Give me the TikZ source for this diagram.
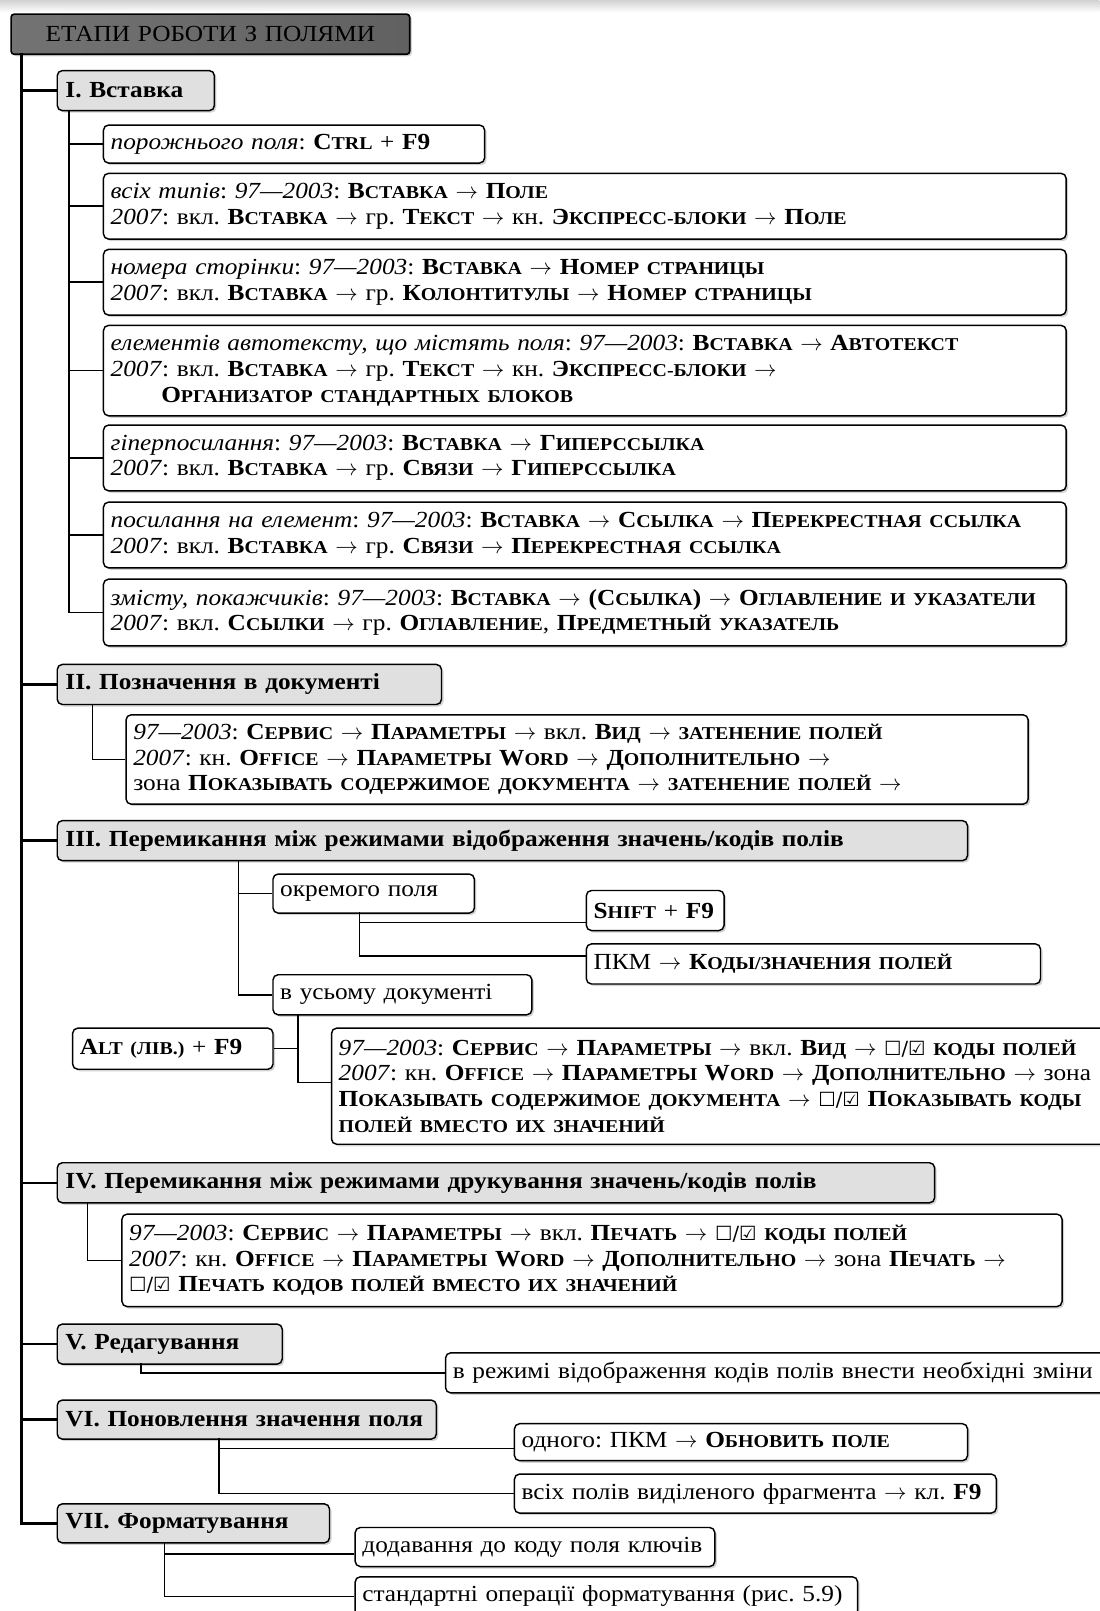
\documentclass[tikz,border=0pt]{standalone}
\usepackage{fontspec}
\setmainfont{Liberation Serif}[FakeStretch=1.1]
\newfontfamily\dejavu{DejaVu Sans}
\usetikzlibrary{shadows}
\frenchspacing

% small caps as in the book: bold initial, smaller capitals
\newcommand\kap[2]{\textbf{#1{\fontsize{8.8}{10}\selectfont #2}}}
\newcommand\chk{{\dejavu\fontsize{9.5}{10}\selectfont ☐/☑}}
\newcommand\ar{$\rightarrow$}

\begin{document}
\begin{tikzpicture}[x=0.5pt,y=-0.5pt,
    head/.style={draw,line width=0.8pt,rounded corners=1.5pt,anchor=north west,inner sep=0pt,
      left color=black!55,middle color=black!3,right color=black!62,align=center,
      font=\fontsize{11.2}{13}\selectfont,drop shadow={shadow xshift=1pt,shadow yshift=-1pt,opacity=0.35}},
    lvl/.style={draw,line width=0.7pt,rounded corners=2.5pt,fill=black!12,anchor=north west,
      inner xsep=4pt,inner ysep=0pt,align=left,font=\bfseries\fontsize{11.2}{13}\selectfont,
      drop shadow={shadow xshift=1pt,shadow yshift=-1pt,opacity=0.35}},
    item/.style={draw,line width=0.7pt,rounded corners=2.5pt,fill=white,anchor=north west,
      inner xsep=3.5pt,inner ysep=0pt,align=left,font=\fontsize{11.2}{12.5}\selectfont,
      drop shadow={shadow xshift=1pt,shadow yshift=-1pt,opacity=0.35}},
    link/.style={line width=0.75pt},
    trunk/.style={line width=1.2pt}]
  \useasboundingbox (0,0) rectangle (1070,1568);
  \shade[top color=black!18,bottom color=white] (0,0) rectangle (1070,12);

  % Coordinates of the branch points
  \coordinate (t0) at (21,52);
  \coordinate (t1) at (67,107);
  \coordinate (t2) at (90,685);
  \coordinate (t3) at (232,837);
  \coordinate (t3a) at (350,888);
  \coordinate (t3b) at (290,987);
  \coordinate (t4) at (85,1170);
  \coordinate (t5) at (137,1327);
  \coordinate (t6) at (213,1400);
  \coordinate (t7) at (160,1501);

  % The title
  \node[head,text width=194pt,minimum height=19.5pt] (head) at (10,13) {ЕТАПИ РОБОТИ З ПОЛЯМИ};

  % The stages
  \node[lvl,text width=68.5pt,minimum height=19.5pt] (l1) at (55,68) {I. Вставка};
  \node[lvl,text width=179pt,minimum height=19.5pt] (l2) at (55,646) {II. Позначення в документі};
  \node[lvl,text width=435pt,minimum height=19.5pt] (l3) at (55,798) {III. Перемикання між режимами відображення значень/кодів полів};
  \node[lvl,text width=419pt,minimum height=19.5pt] (l4) at (55,1131) {IV. Перемикання між режимами друкування значень/кодів полів};
  \node[lvl,text width=101.5pt,minimum height=19.5pt] (l5) at (55,1288) {V. Редагування};
  \node[lvl,text width=176.5pt,minimum height=19pt] (l6) at (55,1362) {VI. Поновлення значення поля};
  \node[lvl,text width=124.5pt,minimum height=19pt] (l7) at (55,1463) {VII. Форматування};

  % I. Вставка
  \node[item,text width=178.5pt,minimum height=18.5pt] (ia) at (100,121)
    {\textit{порожнього поля}: \kap{C}{TRL} + \textbf{F9}};
  \node[item,text width=461.5pt,minimum height=32pt] (ib) at (100,168)
    {\textit{всіх типів}: \textit{97—2003}: \kap{В}{СТАВКА} \ar{} \kap{П}{ОЛЕ}\\
     \textit{2007}: вкл. \kap{В}{СТАВКА} \ar{} гр. \kap{Т}{ЕКСТ} \ar{} кн. \kap{Э}{КСПРЕСС-БЛОКИ} \ar{} \kap{П}{ОЛЕ}};
  \node[item,text width=461.5pt,minimum height=32pt] (ic) at (100,242)
    {\textit{номера сторінки}: \textit{97—2003}: \kap{В}{СТАВКА} \ar{} \kap{Н}{ОМЕР СТРАНИЦЫ}\\
     \textit{2007}: вкл. \kap{В}{СТАВКА} \ar{} гр. \kap{К}{ОЛОНТИТУЛЫ} \ar{} \kap{Н}{ОМЕР СТРАНИЦЫ}};
  \node[item,text width=461.5pt,minimum height=44pt] (id) at (100,316)
    {\textit{елементів автотексту, що містять поля}: \textit{97—2003}: \kap{В}{СТАВКА} \ar{} \kap{А}{ВТОТЕКСТ}\\
     \textit{2007}: вкл. \kap{В}{СТАВКА} \ar{} гр. \kap{Т}{ЕКСТ} \ar{} кн. \kap{Э}{КСПРЕСС-БЛОКИ} \ar\\
     \hspace*{2.2em}\kap{О}{РГАНИЗАТОР СТАНДАРТНЫХ БЛОКОВ}};
  \node[item,text width=461.5pt,minimum height=32pt] (ie) at (100,413)
    {\textit{гіперпосилання}: \textit{97—2003}: \kap{В}{СТАВКА} \ar{} \kap{Г}{ИПЕРССЫЛКА}\\
     \textit{2007}: вкл. \kap{В}{СТАВКА} \ar{} гр. \kap{С}{ВЯЗИ} \ar{} \kap{Г}{ИПЕРССЫЛКА}};
  \node[item,text width=461.5pt,minimum height=32pt] (if) at (100,488)
    {\textit{посилання на елемент}: \textit{97—2003}: \kap{В}{СТАВКА} \ar{} \kap{С}{СЫЛКА} \ar{} \kap{П}{ЕРЕКРЕСТНАЯ ССЫЛКА}\\
     \textit{2007}: вкл. \kap{В}{СТАВКА} \ar{} гр. \kap{С}{ВЯЗИ} \ar{} \kap{П}{ЕРЕКРЕСТНАЯ ССЫЛКА}};
  \node[item,text width=461.5pt,minimum height=32.5pt] (ig) at (100,563)
    {\textit{змісту, покажчиків}: \textit{97—2003}: \kap{В}{СТАВКА} \ar{} \textbf{(}\kap{С}{СЫЛКА}\textbf{)} \ar{} \kap{О}{ГЛАВЛЕНИЕ И УКАЗАТЕЛИ}\\
     \textit{2007}: вкл. \kap{С}{СЫЛКИ} \ar{} гр. \kap{О}{ГЛАВЛЕНИЕ}, \kap{П}{РЕДМЕТНЫЙ УКАЗАТЕЛЬ}};

  % II. Позначення
  \node[item,text width=432pt,minimum height=43.5pt] (p2) at (122,695)
    {\textit{97—2003}: \kap{С}{ЕРВИС} \ar{} \kap{П}{АРАМЕТРЫ} \ar{} вкл. \kap{В}{ИД} \ar{} \kap{}{ЗАТЕНЕНИЕ ПОЛЕЙ}\\
     \textit{2007}: кн. \kap{O}{FFICE} \ar{} \kap{П}{АРАМЕТРЫ }\kap{W}{ORD} \ar{} \kap{Д}{ОПОЛНИТЕЛЬНО} \ar\\
     зона \kap{П}{ОКАЗЫВАТЬ СОДЕРЖИМОЕ ДОКУМЕНТА} \ar{} \kap{}{ЗАТЕНЕНИЕ ПОЛЕЙ} \ar};

  % III. Перемикання відображення
  \node[item,text width=91pt,minimum height=19pt] (okr) at (265,850) {окремого поля};
  \node[item,text width=119pt,minimum height=19.5pt] (usyo) at (265,948) {в усьому документі};
  \node[item,text width=60pt,minimum height=19.5pt] (shift) at (570,866) {\kap{S}{HIFT} + \textbf{F9}};
  \node[item,text width=214pt,minimum height=19.5pt] (pkm) at (570,918) {ПКМ \ar{} \kap{К}{ОДЫ/ЗНАЧЕНИЯ ПОЛЕЙ}};
  \node[item,text width=90.5pt,minimum height=20pt] (alt) at (70,1000) {\kap{A}{LT (ЛІВ.)} + \textbf{F9}};
  \node[item,text width=372pt,minimum height=56.5pt] (big) at (322,1000)
    {\textit{97—2003}: \kap{С}{ЕРВИС} \ar{} \kap{П}{АРАМЕТРЫ} \ar{} вкл. \kap{В}{ИД} \ar{} \chk\ \kap{}{КОДЫ ПОЛЕЙ}\\
     \textit{2007}: кн. \kap{O}{FFICE} \ar{} \kap{П}{АРАМЕТРЫ }\kap{W}{ORD} \ar{} \kap{Д}{ОПОЛНИТЕЛЬНО} \ar{} зона\\
     \kap{П}{ОКАЗЫВАТЬ СОДЕРЖИМОЕ ДОКУМЕНТА} \ar{} \chk\ \kap{П}{ОКАЗЫВАТЬ КОДЫ}\\
     \kap{}{ПОЛЕЙ ВМЕСТО ИХ ЗНАЧЕНИЙ}};

  % IV. Перемикання друкування
  \node[item,text width=450.5pt,minimum height=45pt] (p4) at (118,1181)
    {\textit{97—2003}: \kap{С}{ЕРВИС} \ar{} \kap{П}{АРАМЕТРЫ} \ar{} вкл. \kap{П}{ЕЧАТЬ} \ar{} \chk\ \kap{}{КОДЫ ПОЛЕЙ}\\
     \textit{2007}: кн. \kap{O}{FFICE} \ar{} \kap{П}{АРАМЕТРЫ }\kap{W}{ORD} \ar{} \kap{Д}{ОПОЛНИТЕЛЬНО} \ar{} зона \kap{П}{ЕЧАТЬ} \ar\\
     \chk\ \kap{П}{ЕЧАТЬ КОДОВ ПОЛЕЙ ВМЕСТО ИХ ЗНАЧЕНИЙ}};

  % V -- VII
  \node[item,text width=314pt,minimum height=19.5pt] (p5) at (433,1316) {в режимі відображення кодів полів внести необхідні зміни};
  \node[item,text width=213.5pt,minimum height=18pt] (one) at (500,1385) {одного: ПКМ \ar{} \kap{О}{БНОВИТЬ ПОЛЕ}};
  \node[item,text width=227.5pt,minimum height=19pt] (all) at (500,1434) {всіх полів виділеного фрагмента \ar{} кл. \textbf{F9}};
  \node[item,text width=168pt,minimum height=19pt] (add) at (345,1486) {додавання до коду поля ключів};
  \node[item,text width=237.5pt,minimum height=19pt] (std) at (345,1534) {стандартні операції форматування (рис. 5.9)};

  % The main trunk
  \draw[trunk] (t0) |- (l7.west);
  \foreach \n in {l1,l2,l3,l4,l5,l6}
    \draw[trunk] (t0 |- \n.west) -- (\n.west);

  % The branches
  \draw[link] (t1) |- (ig.west);
  \foreach \n in {ia,ib,ic,id,ie,if}
    \draw[link] (t1 |- \n.west) -- (\n.west);
  \draw[link] (t2) |- (p2.west);
  \draw[link] (t3) |- (usyo.west);
  \draw[link] (t3 |- okr.west) -- (okr.west);
  \draw[link] (t3a) |- ([yshift=-5.75pt]shift.west);
  \draw[link] (t3a) |- ([yshift=3.75pt]pkm.west);
  \draw[link] (t3b) |- ([yshift=1.75pt]big.west);
  \draw[link] (t3b |- alt.east) -- (alt.east);
  \draw[link] (t4) |- (p4.west);
  \draw[link] (t5) |- (p5.west);
  \draw[link] (t6) |- ([yshift=-3pt]one.west);
  \draw[link] (t6) |- (all.west);
  \draw[link] (t7) |- ([yshift=-3.5pt]add.west);
  \draw[link] (t7) |- (std.west);
\end{tikzpicture}
\end{document}
